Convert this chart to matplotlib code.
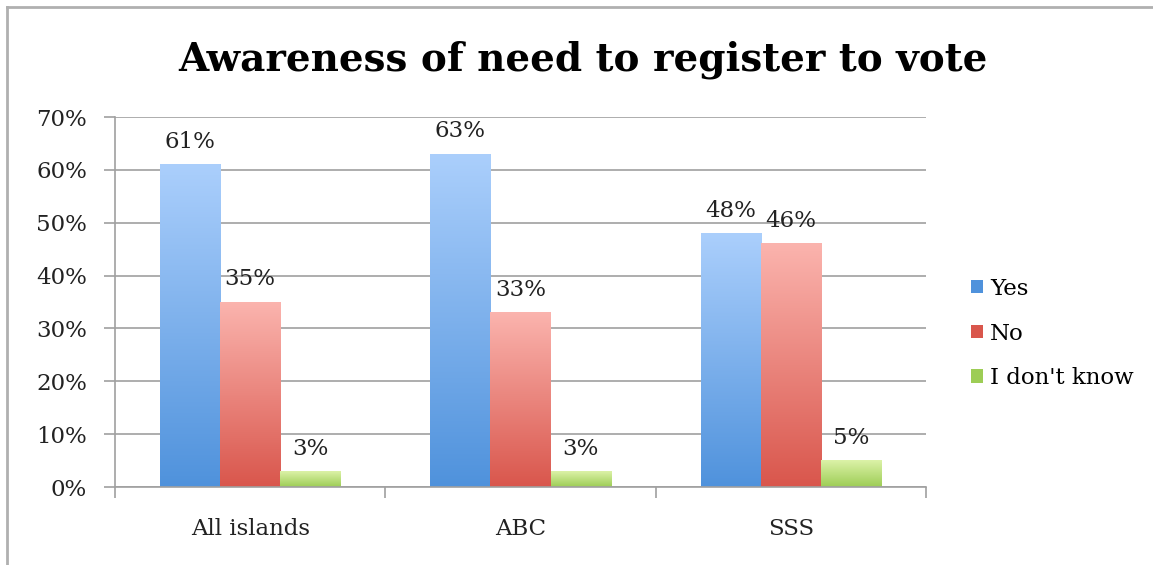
import numpy as np
import matplotlib.pyplot as plt
from matplotlib.colors import LinearSegmentedColormap
from matplotlib.patches import Patch
from matplotlib.lines import Line2D

# ----------------------------
# Data
# ----------------------------
categories = ["All islands", "ABC", "SSS"]
series_names = ["Yes", "No", "I don't know"]
yes_vals = [61, 63, 48]
no_vals = [35, 33, 46]
idk_vals = [3, 3, 5]
y_ticks = [0, 10, 20, 30, 40, 50, 60, 70]

# gradient colours (top, bottom) per series
grad = {
    "Yes": ("#abcffc", "#4f92dc"),
    "No": ("#fbb4ae", "#d9564c"),
    "I don't know": ("#dcf2a8", "#9dcd55"),
}

plt.rcParams["font.family"] = ["DejaVu Serif"]
TXT = "#222222"
GRID = "#a0a0a0"

fig = plt.figure(figsize=(11.53, 5.65), dpi=100)
ax = fig.add_axes([115 / 1153, 1 - 487 / 565, (926 - 115) / 1153, (487 - 117) / 565])

bar_w = 60 / 270
x = np.arange(len(categories))
all_vals = [yes_vals, no_vals, idk_vals]

for si, (name, vals) in enumerate(zip(series_names, all_vals)):
    top, bottom = grad[name]
    cmap = LinearSegmentedColormap.from_list(name, [bottom, top])
    for xi, v in zip(x, vals):
        left = xi + (si - 1.5) * bar_w
        grad_img = np.linspace(0, 1, 256).reshape(-1, 1)
        ax.imshow(grad_img, cmap=cmap, origin="lower", aspect="auto",
                  extent=[left, left + bar_w, 0, v], zorder=2, interpolation="bicubic")
        ax.text(left + bar_w / 2, v + 2.2, f"{v}%", ha="center", va="bottom",
                fontsize=16.5, color=TXT, zorder=3)

ax.set_xlim(-0.5, len(categories) - 0.5)
ax.set_ylim(0, 70)
ax.set_yticks(y_ticks)
ax.set_yticklabels([f"{t}%" for t in y_ticks], fontsize=16.5, color=TXT)
ax.yaxis.grid(True, color=GRID, linewidth=1.2)
ax.set_axisbelow(True)

# category ticks between groups, labels centred under groups
ax.set_xticks(np.arange(len(categories) + 1) - 0.5)
ax.set_xticklabels([])
ax.set_xticks(x, minor=True)
ax.set_xticklabels(categories, minor=True, fontsize=16.5, color=TXT)
ax.tick_params(axis="x", which="minor", length=0, pad=22)
ax.tick_params(axis="x", which="major", length=8, color=GRID, direction="out", width=1.2)
ax.tick_params(axis="y", length=8, color=GRID, width=1.2, pad=12)

for s in ["top", "right"]:
    ax.spines[s].set_visible(False)
for s in ["left", "bottom"]:
    ax.spines[s].set_color(GRID)
    ax.spines[s].set_linewidth(1.2)

handles = [Patch(facecolor=grad[n][1], edgecolor="none") for n in series_names]
fig.legend(handles, series_names, loc="upper left", bbox_to_anchor=(950 / 1153, 1 - 257 / 565),
           frameon=False, fontsize=16.5, handlelength=0.55, handleheight=0.55,
           handletextpad=0.3, labelspacing=1.0)

fig.text(0.506, 1 - 60 / 565, "Awareness of need to register to vote", ha="center",
         va="center", fontsize=28, fontweight="bold")

# outer frame (left and top)
fig.add_artist(Line2D([7 / 1153, 7 / 1153], [0, 1 - 7 / 565], color="#b0b0b0", lw=2))
fig.add_artist(Line2D([7 / 1153, 1], [1 - 7 / 565, 1 - 7 / 565], color="#b0b0b0", lw=2))

fig.savefig("out.png", dpi=100)
